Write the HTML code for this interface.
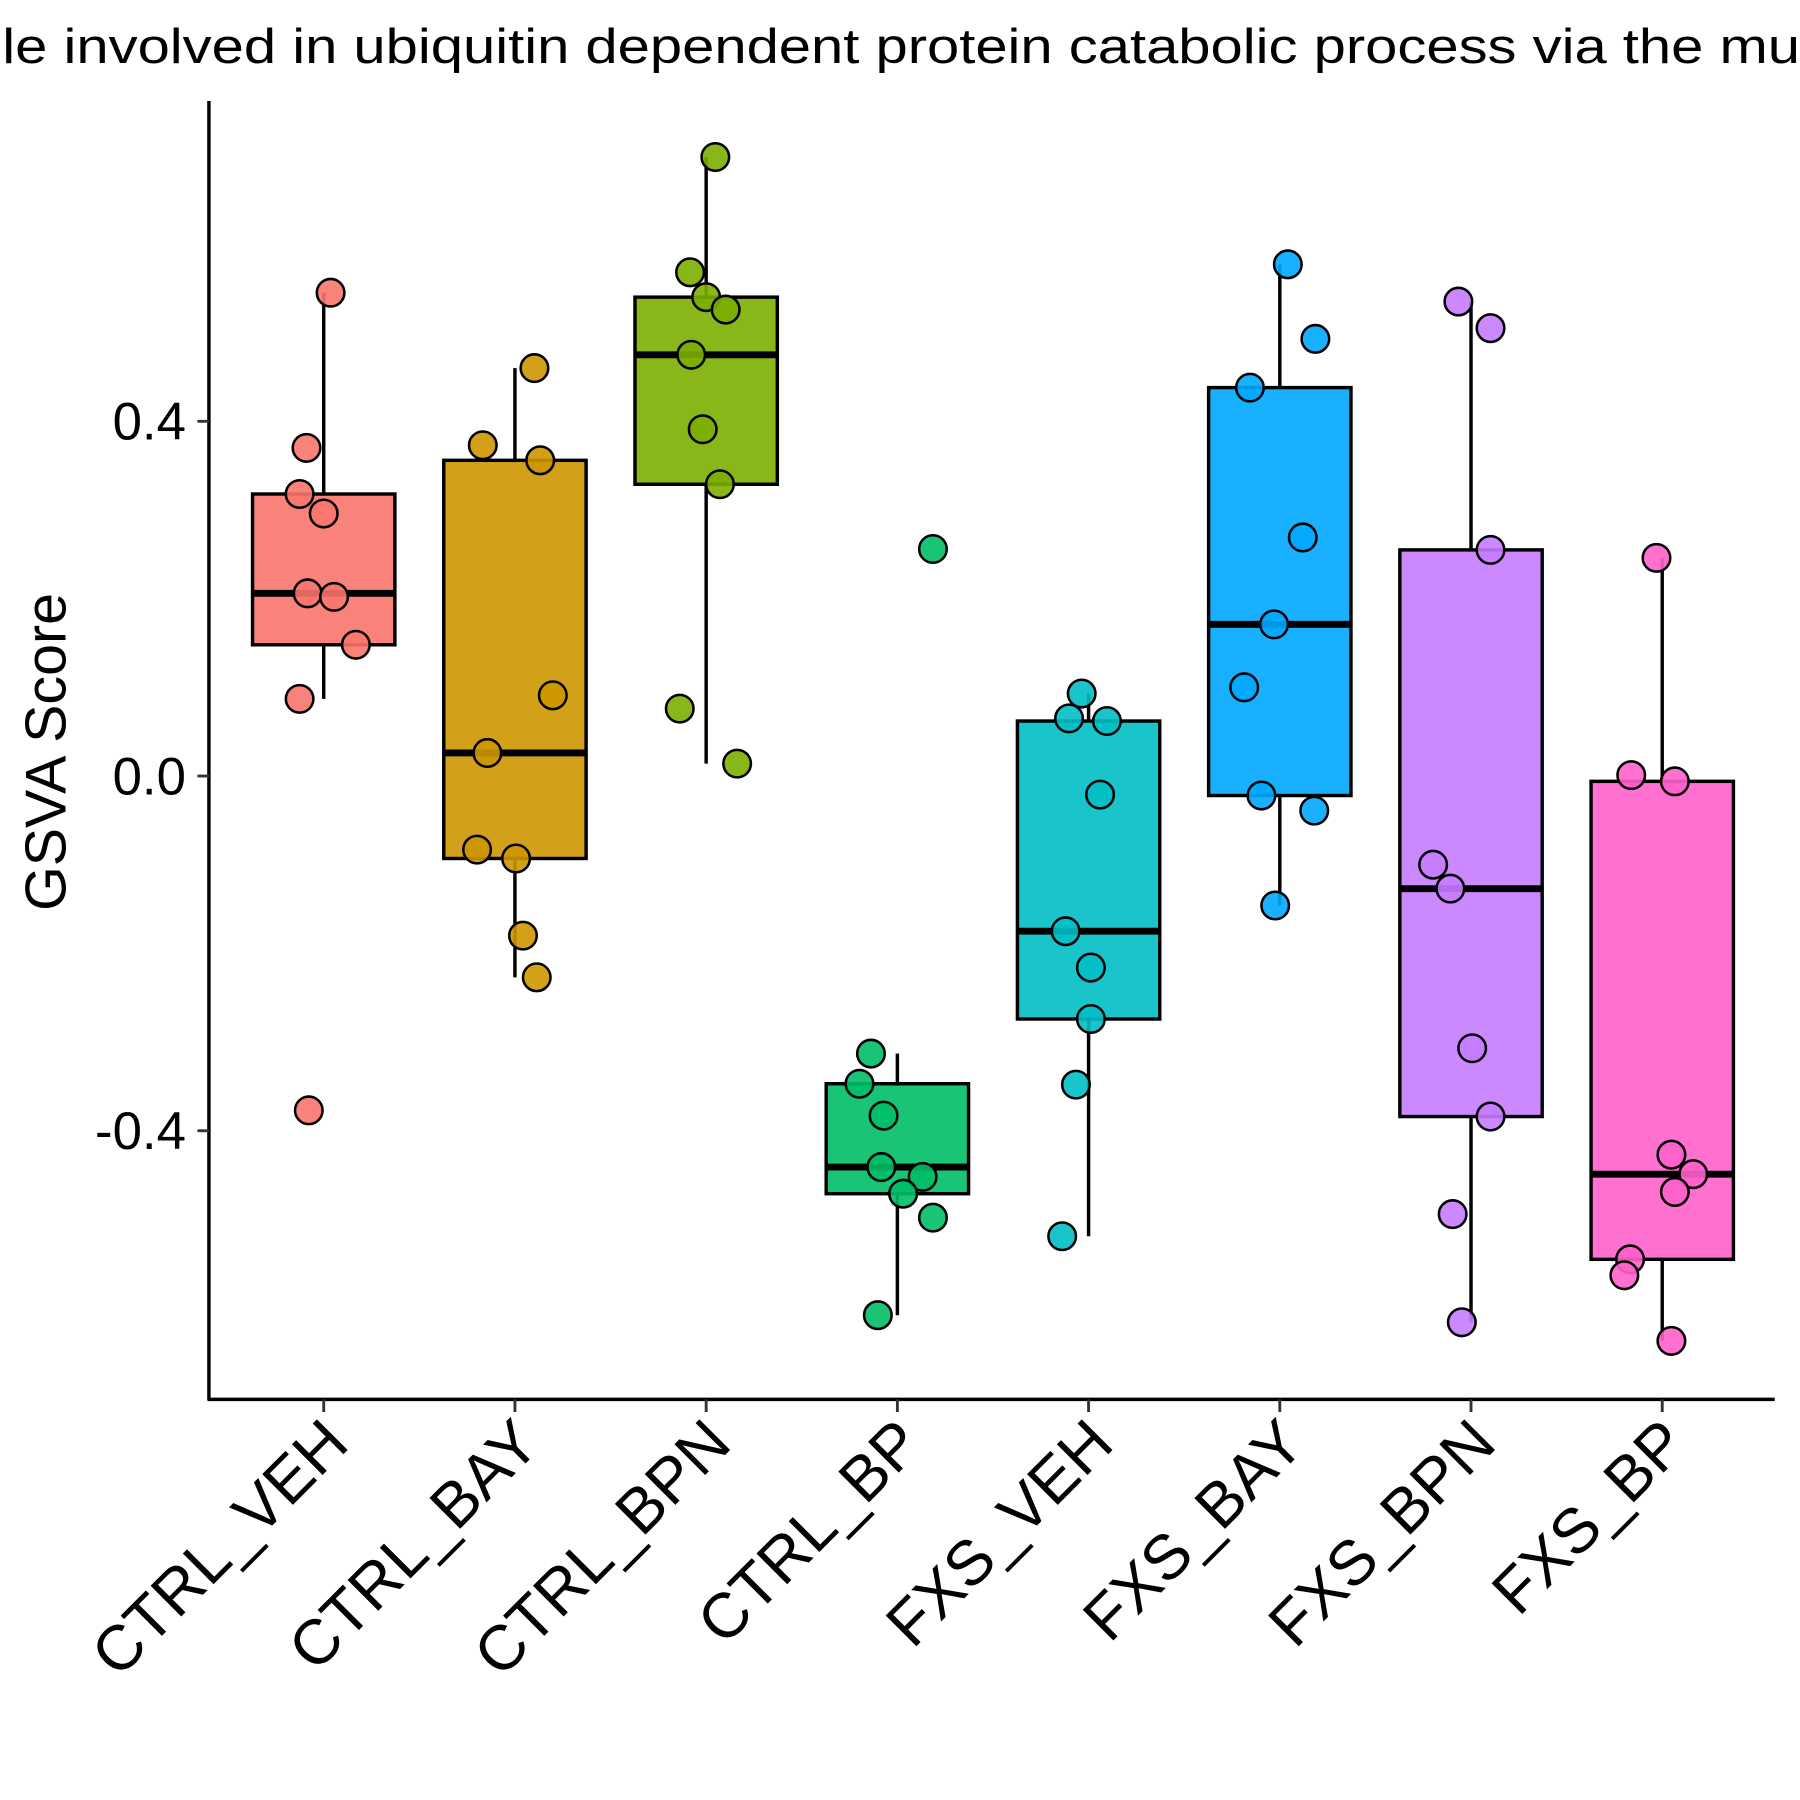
<!DOCTYPE html>
<html><head><meta charset="utf-8"><style>html,body{margin:0;padding:0;background:#fff}svg{display:block}</style></head>
<body>
<svg id="chart" width="1800" height="1800" viewBox="0 0 1568 1568" xmlns="http://www.w3.org/2000/svg" font-family="'Liberation Sans', Arial, sans-serif">
<text x="2" y="55" font-size="43" textLength="1566" lengthAdjust="spacingAndGlyphs">le involved in ubiquitin dependent protein catabolic process via the mu</text>
<text transform="translate(57,655) rotate(-90)" text-anchor="middle" font-size="50">GSVA Score</text>
<g id="plot"></g>
</svg>
<script>
const categories = ["CTRL_VEH","CTRL_BAY","CTRL_BPN","CTRL_BP","FXS_VEH","FXS_BAY","FXS_BPN","FXS_BP"];
const colors = ["#F8766D","#CD9600","#7CAE00","#00BE67","#00BFC4","#00A9FF","#C77CFF","#FF61CC"];
const ctrlVeh = [0.545,0.370,0.318,0.296,0.206,0.202,0.148,0.087,-0.377];
const ctrlBay = [0.460,0.373,0.356,0.091,0.026,-0.083,-0.093,-0.180,-0.227];
const ctrlBpn = [0.698,0.568,0.540,0.526,0.475,0.391,0.329,0.076,0.014];
const ctrlBp  = [0.256,-0.313,-0.347,-0.383,-0.441,-0.452,-0.471,-0.498,-0.608];
const fxsVeh  = [0.093,0.065,0.062,-0.021,-0.175,-0.216,-0.274,-0.348,-0.519];
const fxsBay  = [0.577,0.493,0.438,0.269,0.171,0.100,-0.022,-0.039,-0.146];
const fxsBpn  = [0.535,0.505,0.255,-0.100,-0.127,-0.307,-0.384,-0.494,-0.616];
const fxsBp   = [0.246,0.001,-0.006,-0.427,-0.449,-0.469,-0.545,-0.563,-0.637];
const seriesValues = [ctrlVeh,ctrlBay,ctrlBpn,ctrlBp,fxsVeh,fxsBay,fxsBpn,fxsBp];
const jitter = [[6,-15,-21,0,-14,9,28,-21,-13],[17,-28,22,33,-24,-33,1,7,19],[8,-14,0,17,-13,-3,12,-23,27],[31,-23,-33,-12,-14,22,5,31,-17],[-6,-17,16,10,-20,2,2,-11,-23],[7,31,-26,20,-5,-31,-16,30,-4],[-11,17,17,-33,-18,1,17,-16,-8],[-5,-27,11,8,27,11,-28,-33,8]];
const yTicks = [0.4,0.0,-0.4];
const yTickLabels = ["0.4","0.0","-0.4"];

const NS="http://www.w3.org/2000/svg";
const g=document.getElementById('plot');
const xPos=i=>282+i*166.57;
const yPos=v=>676-772.5*v;
function mk(tag,attrs){const e=document.createElementNS(NS,tag);for(const k in attrs)e.setAttribute(k,attrs[k]);g.appendChild(e);return e;}
function q(s,p){const h=(s.length-1)*p,l=Math.floor(h);return s[l]+(h-l)*((s[Math.min(l+1,s.length-1)])-s[l]);}

let e=mk('line',{x1:182,y1:88,x2:182,y2:1220,stroke:'#000','stroke-width':3});


e=mk('line',{x1:181,y1:1219,x2:1546,y2:1219,stroke:'#000','stroke-width':3});



yTicks.forEach((t,i)=>{
  let l=mk('line',{x1:172,y1:yPos(t),x2:182,y2:yPos(t),stroke:'#333','stroke-width':2.5});
  
  
  let tx=mk('text',{x:162,y:yPos(t)+16,'text-anchor':'end','font-size':46,fill:'#000'});
  tx.textContent=yTickLabels[i];
  
  
});

categories.forEach((c,i)=>{
  const x=xPos(i);
  let l=mk('line',{x1:x,y1:1219,x2:x,y2:1230,stroke:'#333','stroke-width':2.5});
  
  
  let tx=mk('text',{transform:`translate(${x+24},${1260}) rotate(-45)`,'text-anchor':'end','font-size':55,fill:'#000'});
  tx.textContent=c;
  
  

  const s=[...seriesValues[i]].sort((a,b)=>a-b);
  const q1=q(s,0.25),q3=q(s,0.75),md=q(s,0.5),iqr=q3-q1;
  const lo=Math.min(...s.filter(v=>v>=q1-1.5*iqr)),hi=Math.max(...s.filter(v=>v<=q3+1.5*iqr));
  let w=mk('line',{x1:x,y1:yPos(hi),x2:x,y2:yPos(q3),stroke:'#000','stroke-width':3});
  
  
  w=mk('line',{x1:x,y1:yPos(q1),x2:x,y2:yPos(lo),stroke:'#000','stroke-width':3});
  
  
  let b=mk('rect',{x:x-62,y:yPos(q3),width:124,height:yPos(q1)-yPos(q3),fill:colors[i],'fill-opacity':0.9,stroke:'#000','stroke-width':3});
  
  
  let m=mk('line',{x1:x-62,y1:yPos(md),x2:x+62,y2:yPos(md),stroke:'#000','stroke-width':6});
  
  
});
categories.forEach((c,i)=>{
  seriesValues[i].forEach((v,j)=>{
    let p=mk('circle',{cx:xPos(i)+jitter[i][j],cy:yPos(v),r:12,fill:colors[i],'fill-opacity':0.9,stroke:'#000','stroke-width':2.2});
    
    
  });
});
</script>
</body></html>
